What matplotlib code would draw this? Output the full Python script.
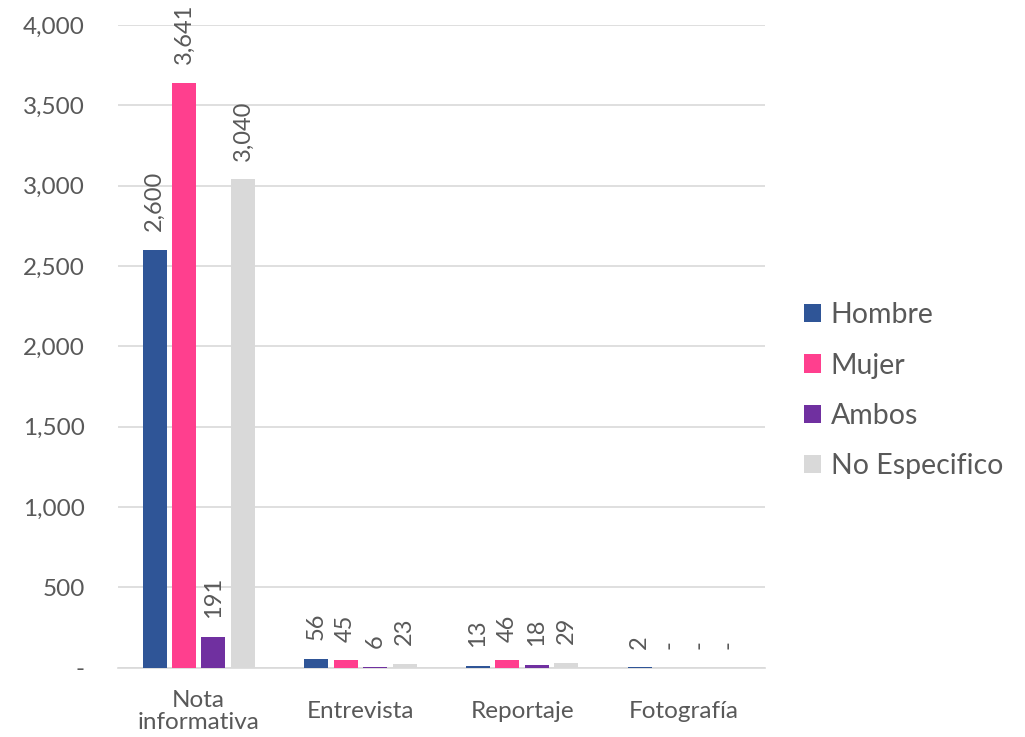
import matplotlib
matplotlib.use("Agg")
import matplotlib.pyplot as plt
import numpy as np
from matplotlib.patches import Patch

categories = ["Nota\ninformativa", "Entrevista", "Reportaje", "Fotografía"]
series_names = ["Hombre", "Mujer", "Ambos", "No Especifico"]
hombre = [2600, 56, 13, 2]
mujer = [3641, 45, 46, 0]
ambos = [191, 6, 18, 0]
no_especifico = [3040, 23, 29, 0]
yticks = [0, 500, 1000, 1500, 2000, 2500, 3000, 3500, 4000]

values = [hombre, mujer, ambos, no_especifico]
colors = ["#2F5597", "#FF3F8E", "#7030A0", "#D9D9D9"]
txt = "#595959"

plt.rcParams['font.family'] = ['Lato', 'DejaVu Sans']

fig = plt.figure(figsize=(10.25, 7.37), dpi=100)
ax = fig.add_axes([0.115, 0.094, 0.631, 0.872])

x = np.arange(len(categories))
width = 0.148
step = 0.182
for i, (vals, c) in enumerate(zip(values, colors)):
    pos = x + (i - 1.5) * step
    ax.bar(pos, vals, width=width, color=c, zorder=3)
    for p, v in zip(pos, vals):
        lab = f"{v:,}" if v != 0 else "-"
        ax.annotate(lab, (p, v), xytext=(0, 13.5), textcoords="offset points",
                    rotation=90, ha="center", va="bottom", fontsize=17, color=txt)

ax.set_xlim(-0.5, len(categories) - 0.5)
ax.set_ylim(0, 4000)
ax.set_yticks(yticks)
ax.set_yticklabels([f"{t:,}" if t else "-" for t in yticks])
ax.set_xticks(x)
ax.set_xticklabels(categories, linespacing=1.03)
ax.tick_params(axis="both", length=0, labelsize=17.5, colors=txt)
ax.tick_params(axis="y", pad=24)
ax.tick_params(axis="x", pad=31.5)
for t in ax.get_xticklabels():
    t.set_va("center")
ax.grid(axis="y", color="#D9D9D9", linewidth=1.2, zorder=0)
for s in ["top", "right", "left"]:
    ax.spines[s].set_visible(False)
ax.spines["bottom"].set_color("#D9D9D9")
ax.spines["bottom"].set_linewidth(1.2)

handles = [Patch(facecolor=c, label=n) for c, n in zip(colors, series_names)]
leg = fig.legend(handles=handles, loc="center left", bbox_to_anchor=(0.759, 0.47),
                 frameon=False, fontsize=20.5, labelspacing=0.85, handlelength=0.6,
                 handleheight=0.6, handletextpad=0.35, labelcolor=txt)

fig.savefig("out.png", dpi=100)
